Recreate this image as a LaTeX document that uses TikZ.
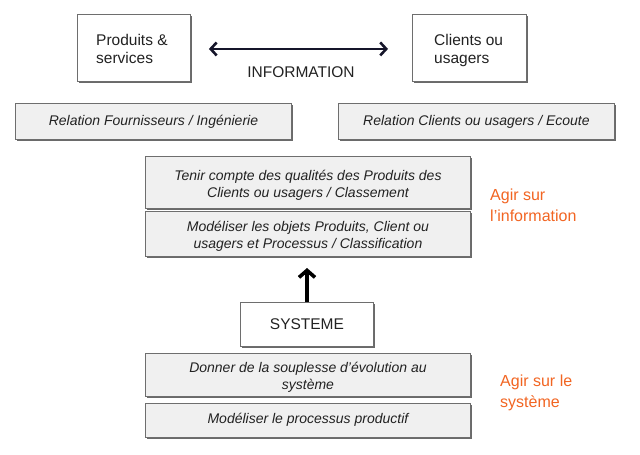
\documentclass[tikz,border=0pt]{standalone}
\usepackage{fontspec}
\setmainfont{Liberation Sans}
\usetikzlibrary{arrows.meta,shadows}
\definecolor{boxfill}{HTML}{F0F0F0}
\definecolor{boxline}{HTML}{6E6E6E}
\definecolor{shadowc}{HTML}{5A5A5A}
\definecolor{txt}{HTML}{222222}
\definecolor{orangec}{HTML}{F26522}
\definecolor{arrowc}{HTML}{15152A}
\tikzset{
  basebox/.style={draw=boxline, line width=0.9pt, anchor=north west, inner sep=0pt,
    drop shadow={shadow xshift=2pt, shadow yshift=-2pt, fill=shadowc, opacity=0.9}},
  whitebox/.style={basebox, fill=white},
  graybox/.style={basebox, fill=boxfill},
  uptext/.style={text=txt, inner sep=0pt, align=left, anchor=north west, font=\fontsize{15.5}{18}\selectfont},
  ittext/.style={text=txt, inner sep=0pt, align=center, font=\fontsize{14}{17}\selectfont\itshape},
  plain/.style={text=txt, font=\fontsize{15.5}{18}\selectfont, inner sep=0pt},
  orangetxt/.style={text=orangec, font=\fontsize{16}{21}\selectfont, align=left, anchor=west, inner sep=0pt},
  bigarrow/.style={line width=2.6pt, draw=arrowc, {Straight Barb[length=6pt,width=13pt,line width=2.6pt]}-{Straight Barb[length=6pt,width=13pt,line width=2.6pt]}},
  uparrow/.style={line width=3.6pt, draw=black, -{Straight Barb[length=7pt,width=16pt,line width=3.6pt]}}
}
\begin{document}
\begin{tikzpicture}[x=1pt,y=-1pt]
\useasboundingbox[fill=white] (0,0) rectangle (640,455);
% top boxes
\node[whitebox, minimum width=113pt, minimum height=67pt] (prod) at (77,14) {};
\node[uptext] (prodt) at (96,34) {Produits \&\\services};
\node[whitebox, minimum width=114pt, minimum height=67pt] (cli) at (412,14) {};
\node[uptext] (clit) at (434,34) {Clients ou\\usagers};
\draw[bigarrow] ([xshift=18pt,yshift=-1pt]prod.east) -- ([xshift=-24pt,yshift=-1pt]cli.west);
\node[plain] (info) at (301,72) {INFORMATION};
% relation boxes
\node[graybox, minimum width=276pt, minimum height=36pt] (rf) at (15,103) {};
\node[ittext] (rft) at (rf.center) {Relation Fournisseurs / Ingénierie};
\node[graybox, minimum width=276pt, minimum height=36pt] (rc) at (338,103) {};
\node[ittext] (rct) at (rc.center) {Relation Clients ou usagers / Ecoute};
% information boxes
\node[graybox, minimum width=325pt, minimum height=52pt] (tenir) at (145,156) {};
\node[ittext] (tenirt) at ([yshift=-3pt]tenir.center) {Tenir compte des qualités des Produits des\\Clients ou usagers / Classement};
\node[graybox, minimum width=325pt, minimum height=45pt] (model) at (145,211) {};
\node[ittext] (modelt) at ([yshift=-2pt]model.center) {Modéliser les objets Produits, Client ou\\usagers et Processus / Classification};
\node[orangetxt] (agir1) at (490,205) {Agir sur\\l’information};
% systeme
\node[whitebox, minimum width=133pt, minimum height=44pt] (sys) at (240,302) {};
\node[plain] (syst) at (sys.center) {SYSTEME};
\coordinate (uptip) at (307,268);
\draw[uparrow] (sys.north -| uptip) -- (uptip);
% system boxes
\node[graybox, minimum width=325pt, minimum height=43pt] (donner) at (145,353) {};
\node[ittext] (donnert) at ([yshift=-2pt]donner.center) {Donner de la souplesse d’évolution au\\système};
\node[graybox, minimum width=325pt, minimum height=34pt] (proc) at (145,403) {};
\node[ittext] (proct) at ([yshift=1pt]proc.center) {Modéliser le processus productif};
\node[orangetxt] (agir2) at (500,393) {Agir sur le\\système};
\end{tikzpicture}
\end{document}
